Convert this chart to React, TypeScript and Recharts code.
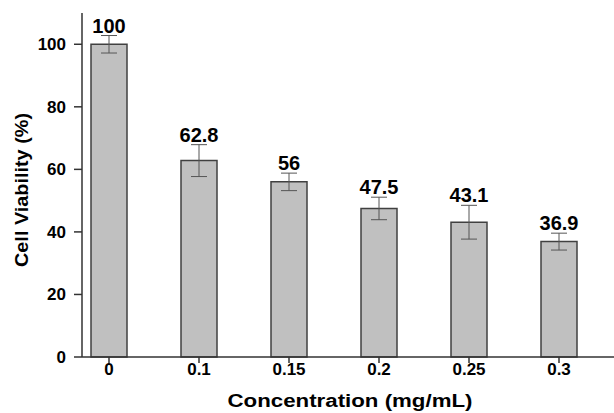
import React from 'react';
import { BarChart, Bar, XAxis, YAxis, ErrorBar, LabelList } from 'recharts';

// concentrations (mg/mL) and MTT results
const concentrations = ['0', '0.1', '0.15', '0.2', '0.25', '0.3'];
const viability = [100, 62.8, 56, 47.5, 43.1, 36.9];
const viabilityErr = [2.8, 5.1, 2.8, 3.6, 5.4, 2.7];
const yTicks = [0, 20, 40, 60, 80, 100];
const yMinorTicks = [10, 30, 50, 70, 90];

const data = concentrations.map((c, i) => ({
  idx: i,
  conc: c,
  value: viability[i],
  err: viabilityErr[i],
}));
const xTicks = data.map(d => d.idx);
const xMinorTicks = data.slice(0, -1).map(d => d.idx + 0.5);

const font = 'Arial, "Liberation Sans", Helvetica, sans-serif';
const axisColor = '#333';

// value label sits just above the error bar cap
const ValueLabel = (props: any) => {
  const { x, y, width, height, value, index } = props;
  const errPx = (height * viabilityErr[index]) / viability[index];
  return (
    <text
      x={x + width / 2}
      y={y - errPx - 3}
      textAnchor="middle"
      fontFamily={font}
      fontWeight="bold"
      fontSize={20}
      fill="#000"
    >
      {value}
    </text>
  );
};

const XTick = (props: any) => {
  const { x, y, payload } = props;
  return (
    <text x={x} y={y + 12} textAnchor="middle" fontFamily={font} fontWeight="bold" fontSize={17} fill="#000">
      {concentrations[payload.value]}
    </text>
  );
};

const YTick = (props: any) => {
  const { x, y, payload } = props;
  return (
    <text x={x} y={y + 6} textAnchor="end" fontFamily={font} fontWeight="bold" fontSize={17} fill="#000">
      {payload.value}
    </text>
  );
};

const NoTick = () => <g />;

const App: React.FC = () => {
  return (
    <div
      style={{
        position: 'fixed',
        top: 0,
        left: 0,
        width: 614,
        height: 413,
        overflow: 'hidden',
        background: '#fff',
      }}
    >
      <BarChart
        width={630}
        height={413}
        data={data}
        margin={{ top: 13, right: 8, left: 0, bottom: 0 }}
      >
        <XAxis
          xAxisId="main"
          dataKey="idx"
          type="number"
          domain={[-0.3, 5.7]}
          ticks={xTicks}
          height={56}
          tickSize={6}
          tickMargin={0}
          stroke={axisColor}
          strokeWidth={1.5}
          tick={<XTick />}
          allowDataOverflow
          label={{
            content: () => (
              <text
                x={350}
                y={407}
                textAnchor="middle"
                fontFamily={font}
                fontWeight="bold"
                fontSize={18}
                textLength={245}
                lengthAdjust="spacingAndGlyphs"
                fill="#000"
              >
                Concentration (mg/mL)
              </text>
            ),
          }}
        />
        <XAxis
          xAxisId="minor"
          dataKey="idx"
          type="number"
          domain={[-0.3, 5.7]}
          ticks={xMinorTicks}
          tickSize={3}
          tick={<NoTick />}
          axisLine={false}
          height={0}
          stroke={axisColor}
          strokeWidth={1.5}
        />
        <XAxis
          xAxisId="top"
          dataKey="idx"
          type="number"
          domain={[-0.3, 5.7]}
          orientation="top"
          height={0}
          tick={false}
          tickLine={false}
          stroke={axisColor}
          strokeWidth={1.5}
          label={{
            content: () => (
              <text
                x={497}
                y={36}
                textAnchor="middle"
                fontFamily={font}
                fontWeight="bold"
                fontSize={18}
                textLength={128}
                lengthAdjust="spacingAndGlyphs"
                fill="#000"
              >
                MTT ASSAY
              </text>
            ),
          }}
        />
        <YAxis
          yAxisId="main"
          type="number"
          domain={[0, 110]}
          ticks={yTicks}
          width={82}
          tickSize={8}
          tickMargin={8}
          stroke={axisColor}
          strokeWidth={1.5}
          tick={<YTick />}
          label={{
            content: () => (
              <text
                x={28}
                y={190}
                transform="rotate(-90, 28, 190)"
                textAnchor="middle"
                fontFamily={font}
                fontWeight="bold"
                fontSize={19}
                textLength={154}
                lengthAdjust="spacingAndGlyphs"
                fill="#000"
              >
                Cell Viability (%)
              </text>
            ),
          }}
        />
        <YAxis
          yAxisId="minor"
          type="number"
          domain={[0, 110]}
          ticks={yMinorTicks}
          width={0}
          tickSize={5}
          tick={<NoTick />}
          axisLine={false}
          stroke={axisColor}
          strokeWidth={1.5}
        />
        <YAxis
          yAxisId="right"
          type="number"
          domain={[0, 110]}
          orientation="right"
          width={0}
          tick={false}
          tickLine={false}
          stroke={axisColor}
          strokeWidth={1.5}
        />
        <Bar
          xAxisId="main"
          yAxisId="main"
          dataKey="value"
          barSize={36}
          fill="#c0c0c0"
          stroke="#404040"
          strokeWidth={1.5}
          isAnimationActive={false}
        >
          <ErrorBar dataKey="err" width={8} stroke="#555" strokeWidth={1} direction="y" />
          <LabelList dataKey="value" content={ValueLabel} />
        </Bar>
      </BarChart>
    </div>
  );
};

export default App;
